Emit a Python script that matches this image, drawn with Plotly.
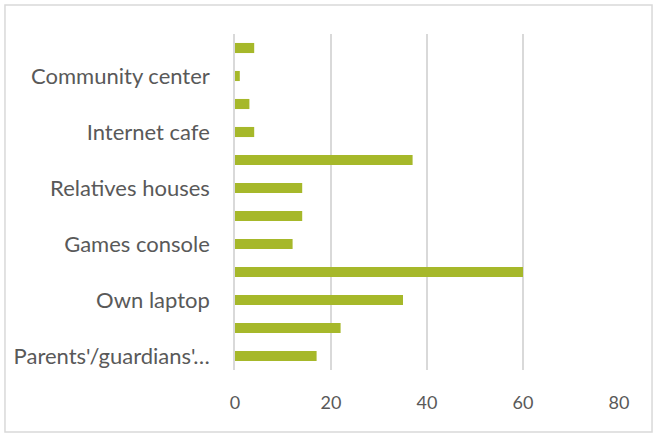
import plotly.graph_objects as go

# Categories from bottom to top
categories = [
    "Parents'/guardians' computer",
    "Own smartphone",
    "Own laptop",
    "Own desktop computer",
    "Games console",
    "Friends houses",
    "Relatives houses",
    "School",
    "Internet cafe",
    "Library",
    "Community center",
    "Other",
]
values = [17, 22, 35, 60, 12, 14, 14, 37, 4, 3, 1, 4]
shown_ticks = categories[0::2]
shown_text = ["Parents'/guardians'…", "Own laptop", "Games console",
              "Relatives houses", "Internet cafe", "Community center"]
x_ticks = [0, 20, 40, 60, 80]

FONT = "Lato"
GRAY = "#595959"

fig = go.Figure(go.Bar(
    y=categories, x=values, orientation="h",
    marker=dict(color="#a6b82a", line=dict(width=0)),
    width=0.36,
))

fig.update_layout(
    width=654, height=433,
    margin=dict(l=235, r=35, t=34, b=63, autoexpand=False),
    paper_bgcolor="white", plot_bgcolor="white",
    showlegend=False,
    font=dict(family=FONT, color=GRAY, size=22),
    xaxis=dict(range=[0, 80], tickvals=x_ticks, showgrid=True,
               gridcolor="#d9d9d9", gridwidth=1.5, zeroline=False,
               showline=False, ticks="", ticklabelstandoff=20, automargin=False,
               tickfont=dict(size=18, color=GRAY)),
    yaxis=dict(type="category", categoryorder="array", categoryarray=categories,
               tickvals=shown_ticks, ticktext=shown_text, automargin=False,
               showline=True, linecolor="#d9d9d9", linewidth=1.5,
               showgrid=False, ticks="", ticklabelstandoff=19,
               tickfont=dict(size=22, color=GRAY)),
    shapes=[dict(type="rect", xref="paper", yref="paper",
                 x0=-0.599, x1=1.086, y0=-0.1845, y1=1.086,
                 line=dict(color="#d9d9d9", width=1.5), layer="below")],
)

fig.write_html("out.html", config={"displayModeBar": False},
               post_script="document.body.style.margin='0px';")
